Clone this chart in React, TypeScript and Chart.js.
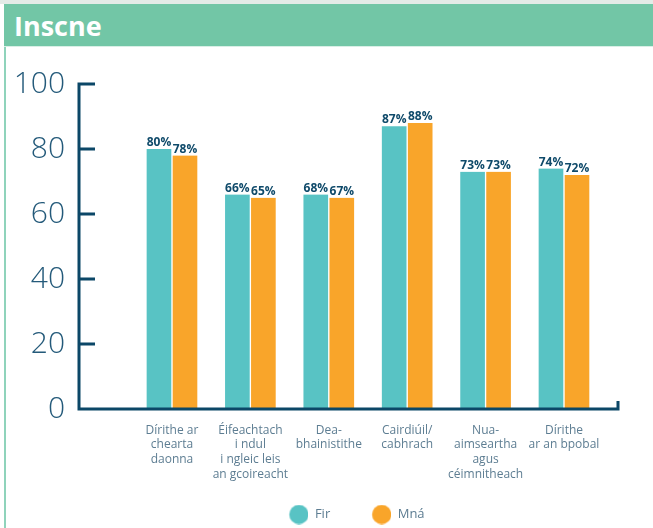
import React, { useEffect, useRef } from 'react';
import { Chart, registerables } from 'chart.js';

Chart.register(...registerables);

const categories: string[][] = [
  ['Dírithe ar', 'chearta', 'daonna'],
  ['Éifeachtach', 'i ndul', 'i ngleic leis', 'an gcoireacht'],
  ['Dea-', 'bhainistithe'],
  ['Cairdiúil/', 'cabhrach'],
  ['Nua-', 'aimseartha', 'agus', 'céimnitheach'],
  ['Dírithe', 'ar an bpobal'],
];
const seriesNames = ['Fir', 'Mná'];
const firValues = [80, 66, 66, 87, 73, 74];
const mnaValues = [78, 65, 65, 88, 73, 72];
const firLabels = ['80%', '66%', '68%', '87%', '73%', '74%'];
const mnaLabels = ['78%', '65%', '67%', '88%', '73%', '72%'];
const yTicks = [0, 20, 40, 60, 80, 100];

const TEAL = '#58c3c4';
const ORANGE = '#f9a52a';
const NAVY = '#0b4767';
const LEGEND_BOX = 36;

function makeDot(color: string) {
  const c = document.createElement('canvas');
  c.width = LEGEND_BOX;
  c.height = 20;
  const ctx = c.getContext('2d')!;
  ctx.fillStyle = color;
  ctx.beginPath();
  ctx.arc(LEGEND_BOX - 9.5, 10, 9.7, 0, Math.PI * 2);
  ctx.fill();
  return c;
}

const axisPlugin = {
  id: 'customAxes',
  afterDatasetsDraw(chart: any) {
    const { ctx, chartArea, scales } = chart;
    const y = scales.y;
    const left = chartArea.left;
    const bottom = y.getPixelForValue(0);
    const top = y.getPixelForValue(100);
    ctx.save();
    ctx.strokeStyle = NAVY;
    ctx.lineWidth = 3;
    ctx.beginPath();
    ctx.moveTo(left, top - 1.5);
    ctx.lineTo(left, bottom + 1.5);
    y.ticks.forEach((t: any) => {
      const py = y.getPixelForValue(t.value);
      ctx.moveTo(left, py);
      ctx.lineTo(left + 16, py);
    });
    ctx.moveTo(left - 1.5, bottom);
    ctx.lineTo(chartArea.right, bottom);
    ctx.moveTo(chartArea.right, bottom + 1.5);
    ctx.lineTo(chartArea.right, bottom - 8);
    ctx.stroke();
    ctx.restore();
  },
};

const valueLabelPlugin = {
  id: 'valueLabels',
  afterDatasetsDraw(chart: any) {
    const { ctx } = chart;
    ctx.save();
    ctx.font = 'bold 12px "Open Sans"';
    ctx.fillStyle = '#0f4a6a';
    ctx.textAlign = 'center';
    ctx.textBaseline = 'alphabetic';
    chart.data.datasets.forEach((ds: any, i: number) => {
      const meta = chart.getDatasetMeta(i);
      meta.data.forEach((el: any, j: number) => {
        ctx.fillText(ds.valueLabels[j], el.x, el.y - 3);
      });
    });
    ctx.restore();
  },
};

export default function App() {
  const ref = useRef<HTMLCanvasElement>(null);

  useEffect(() => {
    if (!ref.current) return;
    Chart.defaults.font.family = '"Open Sans", sans-serif';
    const dots = [makeDot(TEAL), makeDot(ORANGE)];
    const chart = new Chart(ref.current, {
      type: 'bar',
      data: {
        datasets: [
          {
            label: seriesNames[0],
            data: firValues.map((v, i) => ({ x: i, y: v })),
            backgroundColor: TEAL,
            borderColor: '#ffffff',
            borderWidth: { left: 1, right: 1, top: 0, bottom: 0 },
            borderSkipped: false,
            barThickness: 26,
            valueLabels: firLabels,
          } as any,
          {
            label: seriesNames[1],
            data: mnaValues.map((v, i) => ({ x: i, y: v })),
            backgroundColor: ORANGE,
            borderColor: '#ffffff',
            borderWidth: { left: 1, right: 1, top: 0, bottom: 0 },
            borderSkipped: false,
            barThickness: 26,
            valueLabels: mnaLabels,
          } as any,
        ],
      },
      options: {
        animation: false,
        responsive: true,
        maintainAspectRatio: false,
        layout: { padding: { top: 0, right: 35, bottom: 0, left: 0 } },
        plugins: {
          tooltip: { enabled: false },
          legend: {
            position: 'bottom',
            fullSize: false,
            labels: {
              usePointStyle: true,
              pointStyleWidth: LEGEND_BOX,
              padding: 25,
              color: '#5d7d92',
              font: { size: 13 },
              generateLabels: (c: any) =>
                (Chart.defaults.plugins.legend.labels.generateLabels as any)(c).map((l: any, i: number) => ({
                  ...l,
                  pointStyle: dots[i],
                  fontColor: '#5d7d92',
                })),
            },
          },
        },
        scales: {
          x: {
            type: 'linear',
            offset: false,
            min: -1.186,
            max: 5.689,
            grid: { display: false, drawTicks: false, offset: false },
            border: { display: false },
            afterBuildTicks: (s: any) => {
              s.ticks = categories.map((_, i) => ({ value: i }));
            },
            ticks: {
              autoSkip: false,
              maxRotation: 0,
              padding: 14,
              color: '#5d7d92',
              font: { size: 12, lineHeight: 1.22 },
              callback: (v: any) => categories[Math.round(v)] ?? '',
            },
            afterFit: (s: any) => {
              s.height = 74;
            },
          },
          y: {
            min: 0,
            max: 100,
            grid: { display: false, drawTicks: false },
            border: { display: false },
            afterBuildTicks: (s: any) => {
              s.ticks = yTicks.map((v) => ({ value: v }));
            },
            ticks: {
              padding: 14,
              color: '#245a7a',
              font: { size: 30, weight: '300' as any },
            },
            afterFit: (s: any) => {
              s.width = 73;
            },
          },
        },
      } as any,
      plugins: [axisPlugin, valueLabelPlugin],
    });
    return () => chart.destroy();
  }, []);

  return (
    <div
      style={{
        position: 'absolute',
        left: 0,
        top: 0,
        width: 653,
        height: 528,
        background: '#ffffff',
        overflow: 'hidden',
      }}
    >
      <div style={{ position: 'absolute', left: 0, top: 0, width: 653, height: 4, background: '#e3ebe7' }} />
      <div
        style={{
          position: 'absolute',
          left: 4,
          top: 4,
          width: 649,
          height: 43,
          background: '#72c6a6',
          borderBottom: '1px solid #d9efe6',
          boxSizing: 'border-box',
        }}
      >
        <span
          style={{
            position: 'absolute',
            left: 10,
            top: 0,
            lineHeight: '43px',
            fontFamily: '"Open Sans", sans-serif',
            fontWeight: 700,
            fontSize: 27,
            color: '#ffffff',
          }}
        >
          Inscne
        </span>
      </div>
      <div style={{ position: 'absolute', left: 4, top: 47, width: 2, height: 481, background: '#8fd3bb' }} />
      <div style={{ position: 'absolute', left: 6, top: 52, width: 647, height: 479 }}>
        <canvas ref={ref} />
      </div>
    </div>
  );
}
